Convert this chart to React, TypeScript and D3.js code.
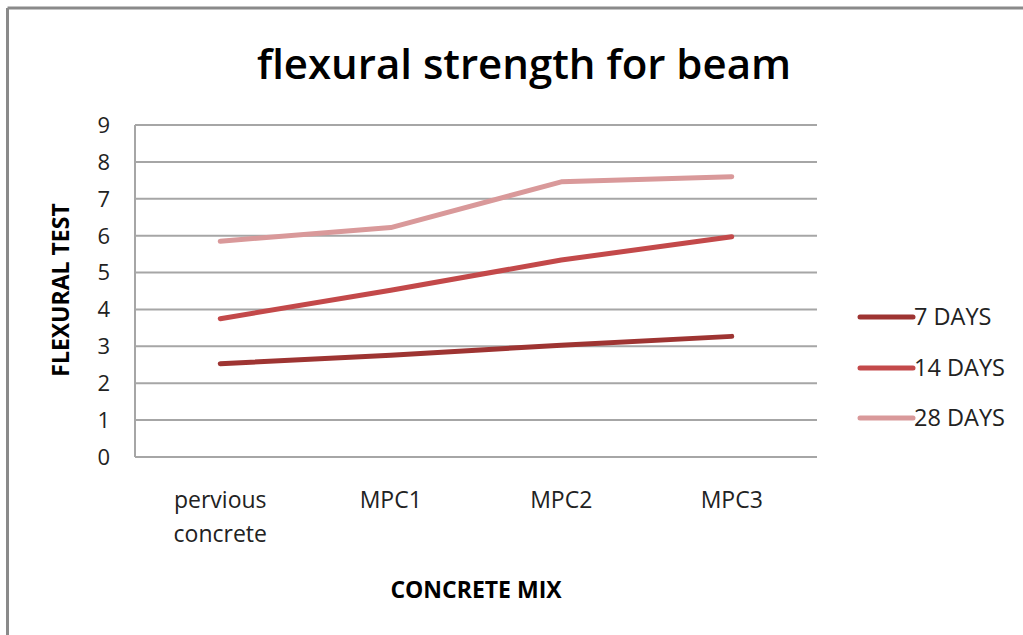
import React from "react";
import * as d3 from "d3";

const categories = ["pervious concrete", "MPC1", "MPC2", "MPC3"];
const seriesNames = ["7 DAYS", "14 DAYS", "28 DAYS"];
const days7 = [2.53, 2.76, 3.03, 3.27];
const days14 = [3.75, 4.52, 5.34, 5.97];
const days28 = [5.85, 6.22, 7.46, 7.6];
const yTicks = [0, 1, 2, 3, 4, 5, 6, 7, 8, 9];
const colors = ["#9E3432", "#C3494A", "#D9999A"];

const W = 1023;
const H = 635;
const plot = { left: 135, right: 817, top: 125, bottom: 457 };
const font = "'Open Sans', 'DejaVu Sans', sans-serif";

export default function App() {
  const x = d3
    .scaleBand<string>()
    .domain(categories)
    .range([plot.left, plot.right])
    .padding(0);
  const y = d3.scaleLinear().domain([0, 9]).range([plot.bottom, plot.top]);
  const line = d3
    .line<number>()
    .x((_, i) => (x(categories[i]) as number) + x.bandwidth() / 2)
    .y((d) => y(d));
  const series = [days7, days14, days28];
  const legendY = [317, 368, 418];

  return (
    <svg
      width={W}
      height={H}
      style={{ position: "absolute", left: 0, top: 0, background: "#fff" }}
      fontFamily={font}
    >
      <rect x={0} y={0} width={W} height={H} fill="#fff" />
      <line x1={7.5} y1={8} x2={W + 5} y2={8} stroke="#8a8a8a" strokeWidth={3} />
      <line x1={7.5} y1={8} x2={7.5} y2={H + 5} stroke="#8a8a8a" strokeWidth={3} />
      <text
        x={524}
        y={79}
        textAnchor="middle"
        fontSize={42}
        fontWeight={600}
        fill="#000"
      >
        flexural strength for beam
      </text>
      {yTicks.map((t) => (
        <g key={t}>
          <line
            x1={plot.left}
            x2={plot.right}
            y1={y(t)}
            y2={y(t)}
            stroke="#a6a6a6"
            strokeWidth={2}
          />
          <text
            x={110}
            y={y(t)}
            dy="0.36em"
            textAnchor="end"
            fontSize={22}
            fill="#222"
          >
            {t}
          </text>
        </g>
      ))}
      <line
        x1={plot.left}
        x2={plot.left}
        y1={plot.top}
        y2={plot.bottom}
        stroke="#a6a6a6"
        strokeWidth={2}
      />
      {categories.map((c) => {
        const parts = c.split(" ");
        const cx = (x(c) as number) + x.bandwidth() / 2;
        return (
          <text key={c} x={cx} y={508} textAnchor="middle" fontSize={23} fill="#222">
            {parts.map((p, i) => (
              <tspan key={i} x={cx} dy={i === 0 ? 0 : 34}>
                {p}
              </tspan>
            ))}
          </text>
        );
      })}
      {series.map((s, i) => (
        <path
          key={i}
          d={line(s) as string}
          fill="none"
          stroke={colors[i]}
          strokeWidth={5}
          strokeLinecap="round"
          strokeLinejoin="round"
        />
      ))}
      {seriesNames.map((n, i) => (
        <g key={n}>
          <line
            x1={860}
            x2={913}
            y1={legendY[i]}
            y2={legendY[i]}
            stroke={colors[i]}
            strokeWidth={5}
            strokeLinecap="round"
          />
          <text x={914} y={legendY[i]} dy="0.36em" fontSize={23.5} fill="#222">
            {n}
          </text>
        </g>
      ))}
      <text
        transform="translate(69,290) rotate(-90)"
        textAnchor="middle"
        fontSize={23}
        fontWeight={700}
        fill="#000"
      >
        FLEXURAL TEST
      </text>
      <text x={476} y={598} textAnchor="middle" fontSize={23} fontWeight={700} fill="#000">
        CONCRETE MIX
      </text>
    </svg>
  );
}
